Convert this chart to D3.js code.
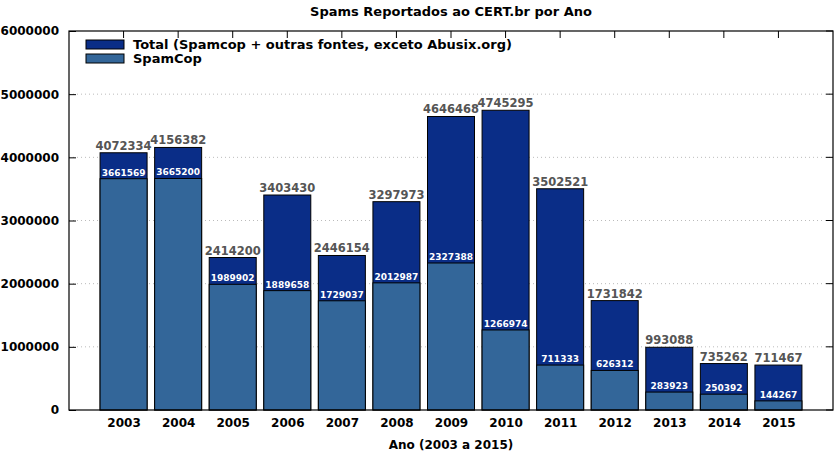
<!DOCTYPE html>
<html>
<head>
<meta charset="utf-8">
<script src="https://cdn.jsdelivr.net/npm/d3@7"></script>
<style>
  body { margin: 0; background: #fff; }
  text { font-family: "DejaVu Sans", sans-serif; font-weight: bold; }
</style>
</head>
<body>
<div class="chart"></div>
<script>
// data
var years = [2003, 2004, 2005, 2006, 2007, 2008, 2009, 2010, 2011, 2012, 2013, 2014, 2015];
var total = [4072334, 4156382, 2414200, 3403430, 2446154, 3297973, 4646468, 4745295, 3502521, 1731842, 993088, 735262, 711467];
var spamcop = [3661569, 3665200, 1989902, 1889658, 1729037, 2012987, 2327388, 1266974, 711333, 626312, 283923, 250392, 144267];
var yTicks = [0, 1000000, 2000000, 3000000, 4000000, 5000000, 6000000];

var svgWidth = 839;
var svgHeight = 455;
var margin = {top: 31, bottom: 45, left: 69, right: 6};
var chartWidth = svgWidth - margin.left - margin.right;
var chartHeight = svgHeight - margin.top - margin.bottom;

var svg = d3.select(".chart").append("svg")
    .attr("width", svgWidth)
    .attr("height", svgHeight);

var chartGroup = svg.append("g")
    .attr("transform", `translate(${margin.left}, ${margin.top})`);

var xScale = d3.scaleLinear().domain([2002, 2016]).range([0, chartWidth]);
var yScale = d3.scaleLinear().domain([0, 6000000]).range([chartHeight, 0]);
var barW = 47;

// dotted grid
chartGroup.selectAll(".grid").data(yTicks.slice(1, -1)).enter()
    .append("line")
    .attr("x1", 0).attr("x2", chartWidth)
    .attr("y1", d => yScale(d)).attr("y2", d => yScale(d))
    .attr("stroke", "#bbb").attr("stroke-width", 1)
    .attr("stroke-dasharray", "1,3");

// bars
var groups = chartGroup.selectAll(".bar").data(years).enter().append("g");

groups.append("rect")
    .attr("x", d => xScale(d) - barW / 2)
    .attr("y", (d, i) => yScale(total[i]))
    .attr("width", barW)
    .attr("height", (d, i) => chartHeight - yScale(total[i]))
    .attr("fill", "#0a2d87")
    .attr("stroke", "black").attr("stroke-width", 1);

groups.append("rect")
    .attr("x", d => xScale(d) - barW / 2)
    .attr("y", (d, i) => yScale(spamcop[i]))
    .attr("width", barW)
    .attr("height", (d, i) => chartHeight - yScale(spamcop[i]))
    .attr("fill", "#336699")
    .attr("stroke", "black").attr("stroke-width", 1);

groups.append("text")
    .attr("x", d => xScale(d))
    .attr("y", (d, i) => yScale(total[i]) - 3)
    .attr("text-anchor", "middle")
    .attr("font-size", "11.5px")
    .attr("fill", "#555")
    .text((d, i) => total[i]);

groups.append("text")
    .attr("x", d => xScale(d))
    .attr("y", (d, i) => yScale(spamcop[i]) - 3)
    .attr("text-anchor", "middle")
    .attr("font-size", "9px")
    .attr("fill", "white")
    .text((d, i) => spamcop[i]);

// axes
var yAxis = d3.axisLeft(yScale).tickValues(yTicks).tickSize(-7).tickPadding(10).tickFormat(d3.format("d"));
var xAxis = d3.axisBottom(xScale).tickValues(years).tickSize(0).tickPadding(8).tickFormat(d3.format("d"));

var yg = chartGroup.append("g").call(yAxis);
yg.select(".domain").remove();
yg.selectAll("text").attr("font-size", "12px").attr("fill", "black");

var xg = chartGroup.append("g").attr("transform", `translate(0, ${chartHeight})`).call(xAxis);
xg.select(".domain").remove();
xg.selectAll("text").attr("font-size", "12px").attr("fill", "black");

// mirrored ticks
chartGroup.selectAll(".rt").data(yTicks).enter().append("line")
    .attr("x1", chartWidth - 7).attr("x2", chartWidth)
    .attr("y1", d => yScale(d)).attr("y2", d => yScale(d))
    .attr("stroke", "black");
chartGroup.selectAll(".tt").data(years).enter().append("line")
    .attr("x1", d => xScale(d)).attr("x2", d => xScale(d))
    .attr("y1", 0).attr("y2", 7)
    .attr("stroke", "black");

// frame
chartGroup.append("rect")
    .attr("width", chartWidth).attr("height", chartHeight)
    .attr("fill", "none").attr("stroke", "black").attr("stroke-width", 1.2);

// title and axis label
svg.append("text")
    .attr("x", margin.left + chartWidth / 2).attr("y", 16)
    .attr("text-anchor", "middle").attr("font-size", "13px")
    .text("Spams Reportados ao CERT.br por Ano");

svg.append("text")
    .attr("x", margin.left + chartWidth / 2).attr("y", 449)
    .attr("text-anchor", "middle").attr("font-size", "12px")
    .text("Ano (2003 a 2015)");

// legend
var legend = [["Total (Spamcop + outras fontes, exceto Abusix.org)", "#0a2d87"], ["SpamCop", "#336699"]];
var lg = svg.selectAll(".legend").data(legend).enter().append("g")
    .attr("transform", (d, i) => `translate(86, ${40 + i * 14})`);
lg.append("rect").attr("width", 38).attr("height", 9)
    .attr("fill", d => d[1]).attr("stroke", "black");
lg.append("text").attr("x", 47).attr("y", 9).attr("font-size", "13px")
    .text(d => d[0]);
</script>
</body>
</html>
